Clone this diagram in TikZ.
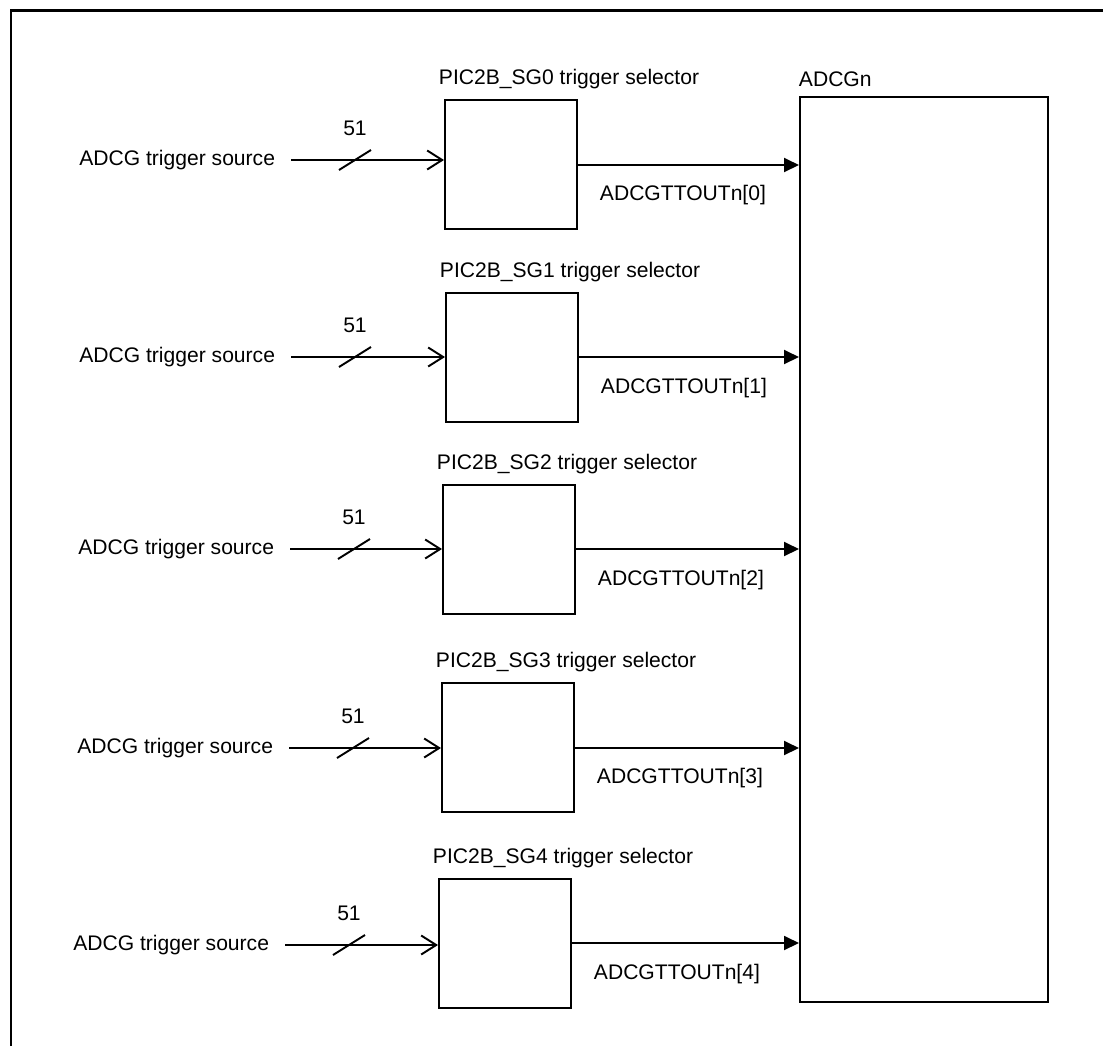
\documentclass[tikz,border=0pt]{standalone}
\usepackage{fontspec}
\setmainfont{Liberation Sans}
\usetikzlibrary{positioning, arrows.meta}

\begin{document}
\begin{tikzpicture}[x=0.02cm, y=-0.02cm, line width=1.1pt, font=\fontsize{12pt}{14pt}\selectfont,
    selbox/.style={draw, anchor=north west, minimum width=2.64cm, minimum height=2.58cm, inner sep=0pt},
    srclabel/.style={anchor=east, inner xsep=0.3cm, inner ysep=0pt},
    inarrow/.style={-{Straight Barb[length=0.3cm, width=0.38cm]}},
    outarrow/.style={-{Triangle[length=0.3cm, width=0.28cm]}}]
    \useasboundingbox (0,0) rectangle (1103,1046);
    \draw[line width=1.7pt] (11,1046) -- (11,10) -- (1103,10);

    \node[draw, anchor=north west, minimum width=4.96cm, minimum height=18.1cm, inner sep=0pt] (adcg) at (799,96) {};
    \node[anchor=base west, inner sep=0pt] (adcglabel) at (798,86) {ADCGn};

    \foreach \i/\bx/\by/\iy/\oy/\sx in {0/444/99/160/165/291, 1/445/292/357/357/291, 2/442/484/549/549/290, 3/441/682/748/748/289, 4/438/878/945/943/285} {
        \node[selbox] (sel\i) at (\bx,\by) {};
        \node[anchor=base west, inner sep=0pt] (title\i) at (\bx-6,\by-15) {PIC2B\_SG\i{} trigger selector};
        \node[srclabel] (src\i) at (\sx,\iy) {ADCG trigger source};
        \node[anchor=base, inner sep=0pt] (width\i) at (\sx+64,\iy-25) {51};
        \node[anchor=base west, inner sep=0pt] (out\i) at (\bx+155,\by+101) {ADCGTTOUTn[\i]};
        \coordinate (o\i) at (\bx+132,\oy);

        \draw[inarrow] (src\i.east) -- (src\i.east -| sel\i.west);
        \draw (\sx+48,\iy+10) -- (\sx+80,\iy-10);
        \draw[outarrow] (o\i) -- (o\i -| adcg.west);
    }
\end{tikzpicture}
\end{document}
